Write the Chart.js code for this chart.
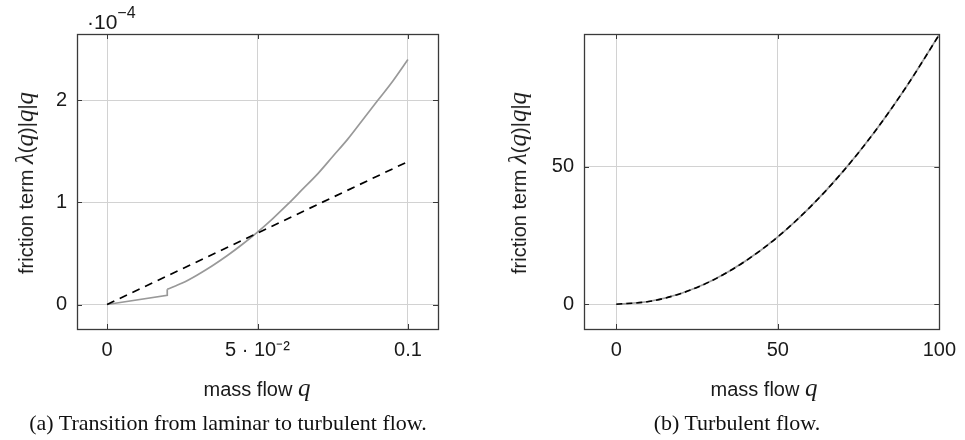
<!DOCTYPE html>
<html>
<head>
<meta charset="utf-8">
<script src="https://cdn.jsdelivr.net/npm/chart.js@4"></script>
<style>
  body { margin: 0; background: #fff; }
  #wrap { position: relative; width: 965px; height: 440px; overflow: hidden; }
  .box { position: absolute; top: 0; height: 440px; }
  .lbl { position: absolute; white-space: nowrap; color: #1a1a1a;
         font-family: "Liberation Sans", Arial, sans-serif; font-size: 20px; }
  .lbl i { font-family: "Liberation Serif", "DejaVu Serif", serif; font-size: 25px; }
  .cap { position: absolute; white-space: nowrap; color: #111;
         font-family: "Liberation Serif", "DejaVu Serif", serif; font-size: 22px;
         transform: translate(-50%, -50%); }
</style>
</head>
<body>
<div id="wrap">
  <div class="box" style="left:0;width:482px"><canvas id="chartA"></canvas></div>
  <div class="box" style="left:482px;width:483px"><canvas id="chartB"></canvas></div>

  <div class="lbl" style="left:87px;top:20px;transform:translateY(-50%);font-size:21px">·10<sup style="font-size:16px;position:relative;top:-3px">−4</sup></div>

  <div class="lbl" style="left:25px;top:183px;transform:translate(-50%,-50%) rotate(-90deg)">friction term <i>λ</i>(<i>q</i>)|<i>q</i>|<i>q</i></div>
  <div class="lbl" style="left:518px;top:183px;transform:translate(-50%,-50%) rotate(-90deg)">friction term <i>λ</i>(<i>q</i>)|<i>q</i>|<i>q</i></div>

  <div class="lbl" style="left:257px;top:388px;transform:translate(-50%,-50%)">mass flow <i>q</i></div>
  <div class="lbl" style="left:764px;top:388px;transform:translate(-50%,-50%)">mass flow <i>q</i></div>

  <div class="cap" style="left:228px;top:423px">(a) Transition from laminar to turbulent flow.</div>
  <div class="cap" style="left:737px;top:423px">(b) Turbulent flow.</div>
</div>

<script>
// (a) laminar -> turbulent, y values in units of 1e-4
// laminar part ends with the jump up to the turbulent branch at q = 0.02
const laminarFlowA = [0, 0.02, 0.02];
const laminarA = [0, 0.09, 0.15];
const turbFlowA = [0.02, 0.025, 0.03, 0.035, 0.04, 0.045, 0.05, 0.055, 0.06,
                   0.065, 0.07, 0.075, 0.08, 0.085, 0.09, 0.095, 0.1];
const turbA = [0.15, 0.21, 0.29, 0.38, 0.48, 0.59, 0.71, 0.84, 0.98,
               1.13, 1.28, 1.45, 1.62, 1.81, 2.0, 2.19, 2.4];
const approxFlowA = [0, 0.1];
const approxA = [0, 1.4];
const xTicksA = [0, 0.05, 0.1];
const xTickLabelsA = ["0", "5 · 10⁻²", "0.1"];
const yTicksA = [0, 1, 2];

// (b) turbulent
const flowB = [0, 10, 20, 30, 40, 50, 60, 70, 80, 90, 100];
const frictionB = [0, 0.98, 3.9, 8.8, 15.7, 24.5, 35.3, 48.0, 62.7, 79.4, 98];
const xTicksB = [0, 50, 100];
const yTicksB = [0, 50];

const GRID = "#d2d2d2";
const FRAME = "#3a3a3a";
const tickFont = { family: "'Liberation Sans', Arial, sans-serif", size: 20 };

function pts(xs, ys) {
    return xs.map((x, i) => ({ x: x, y: ys[i] }));
}

// frame around the plot area plus small tick marks on all four sides
const framePlugin = {
    id: "frame",
    afterDraw(chart) {
        const { ctx, chartArea: a, scales } = chart;
        ctx.save();
        ctx.strokeStyle = FRAME;
        ctx.lineWidth = 1;
        ctx.beginPath();
        scales.x.ticks.forEach(t => {
            const px = Math.round(scales.x.getPixelForValue(t.value)) + 0.5;
            ctx.moveTo(px, a.bottom); ctx.lineTo(px, a.bottom - 5);
            ctx.moveTo(px, a.top); ctx.lineTo(px, a.top + 5);
        });
        scales.y.ticks.forEach(t => {
            const py = Math.round(scales.y.getPixelForValue(t.value)) + 0.5;
            ctx.moveTo(a.left, py); ctx.lineTo(a.left + 5, py);
            ctx.moveTo(a.right, py); ctx.lineTo(a.right - 5, py);
        });
        ctx.stroke();
        ctx.lineWidth = 1.3;
        ctx.strokeRect(Math.round(a.left) + 0.5, Math.round(a.top) + 0.5,
                       Math.round(a.right - a.left), Math.round(a.bottom - a.top));
        ctx.restore();
    }
};

function makeChart(id, datasets, opt) {
    return new Chart(document.getElementById(id), {
        type: "line",
        data: { datasets: datasets },
        options: {
            responsive: true,
            maintainAspectRatio: false,
            animation: false,
            layout: { padding: opt.padding },
            plugins: { legend: { display: false }, tooltip: { enabled: false } },
            elements: { point: { radius: 0 } },
            scales: {
                x: {
                    type: "linear",
                    min: opt.xMin, max: opt.xMax,
                    grid: { color: GRID, drawTicks: false },
                    border: { display: false },
                    afterBuildTicks: s => { s.ticks = opt.xTicks.map(v => ({ value: v })); },
                    afterFit: s => { s.height = 30; },
                    ticks: {
                        color: "#1a1a1a", font: tickFont, padding: 9, maxRotation: 0,
                        callback: (v) => opt.xLabel(v)
                    }
                },
                y: {
                    min: opt.yMin, max: opt.yMax,
                    grid: { color: GRID, drawTicks: false },
                    border: { display: false },
                    afterBuildTicks: s => { s.ticks = opt.yTicks.map(v => ({ value: v })); },
                    afterFit: s => { s.width = opt.yWidth; },
                    ticks: { color: "#1a1a1a", font: tickFont, padding: 10 }
                }
            }
        },
        plugins: [framePlugin]
    });
}

makeChart("chartA", [
    {
        data: pts(laminarFlowA, laminarA), order: 1,
        borderColor: "#999999", borderWidth: 1.7, tension: 0
    },
    {
        data: pts(turbFlowA, turbA), order: 1,
        borderColor: "#999999", borderWidth: 1.7, cubicInterpolationMode: "monotone"
    },
    {
        data: pts(approxFlowA, approxA), order: 0,
        borderColor: "#000000", borderWidth: 1.7, borderDash: [8, 6]
    }
], {
    padding: { left: 0, top: 34, right: 44, bottom: 81 },
    yWidth: 77,
    xMin: -0.01, xMax: 0.11, yMin: -0.24, yMax: 2.65,
    xTicks: xTicksA, yTicks: yTicksA,
    xLabel: v => xTickLabelsA[xTicksA.indexOf(v)] ?? ""
});

makeChart("chartB", [
    {
        data: pts(flowB, frictionB), order: 1,
        borderColor: "#999999", borderWidth: 1.7, cubicInterpolationMode: "monotone"
    },
    {
        data: pts(flowB, frictionB), order: 0,
        borderColor: "#000000", borderWidth: 1.6, borderDash: [6, 4],
        cubicInterpolationMode: "monotone"
    }
], {
    padding: { left: 0, top: 34, right: 20, bottom: 81 },
    yWidth: 102,
    xMin: -10, xMax: 100, yMin: -9.0, yMax: 98.2,
    xTicks: xTicksB, yTicks: yTicksB,
    xLabel: v => String(v)
});
</script>
</body>
</html>
